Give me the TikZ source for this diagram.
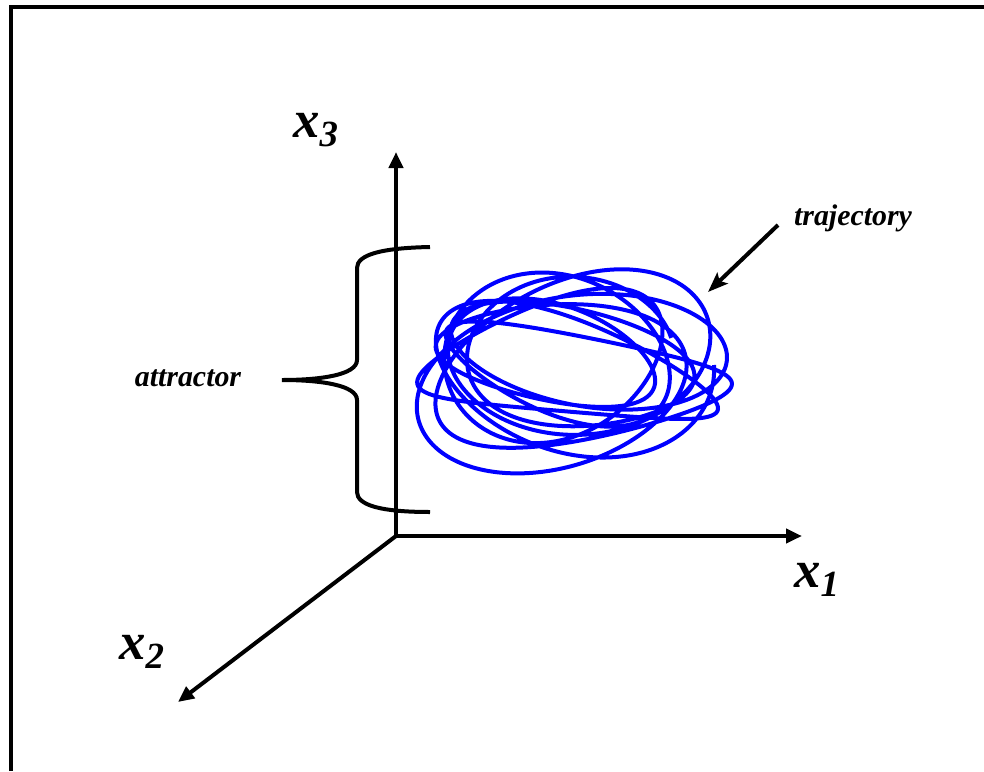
\documentclass[tikz,border=0pt]{standalone}
\usepackage{fontspec}
\setmainfont{Liberation Serif}
\usetikzlibrary{arrows.meta}
\tikzstyle{axislabel} = [font=\fontsize{30}{33}\selectfont\bfseries\itshape, inner sep=0pt]
\tikzstyle{textlabel} = [font=\fontsize{17}{19}\selectfont\bfseries\itshape, inner sep=0pt]
\tikzstyle{axis}      = [-{Triangle[length=0.32cm, width=0.28cm]}, line width=0.08cm]
\tikzstyle{pointer}   = [-{Stealth[length=0.4cm, width=0.3cm, inset=0.08cm]}, line width=0.08cm]
\tikzstyle{orbit}     = [blue, line width=0.08cm, line join=round]

\begin{document}
\begin{tikzpicture}[x=0.02cm, y=-0.02cm,
    declare function={
      aa(\t)=130+24*sin(0.29*\t);
      bb(\t)=64+26*cos(0.41*\t);
      ph(\t)=18*sin(0.37*\t);
      ox(\t)=566+18*cos(0.23*\t);
      oy(\t)=365+12*sin(0.31*\t);
    }]
    \useasboundingbox (0,0) rectangle (984,771);

    % Frame (top and left only)
    \draw[line width=0.09cm] (11,771) -- (11,7) -- (984,7);

    % Axes
    \coordinate (origin) at (396,536);
    \coordinate (x1end) at (802,536);
    \coordinate (x2end) at (178,702);
    \coordinate (x3end) at (396,152);
    \draw[axis] (origin) -- (x1end);
    \draw[axis] (origin) -- (x2end);
    \draw[axis] (origin) -- (x3end);

    \node (x1) [axislabel] at (817,580) {x\textsubscript{1}};
    \node (x2) [axislabel] at (142,652) {x\textsubscript{2}};
    \node (x3) [axislabel] at (316,130) {x\textsubscript{3}};

    % Trajectory
    \draw[orbit] plot[domain=0:3600, samples=900, smooth, variable=\t]
      ({ox(\t)+aa(\t)*cos(\t)*cos(ph(\t))-bb(\t)*sin(\t)*sin(ph(\t))},
       {oy(\t)+aa(\t)*cos(\t)*sin(ph(\t))+bb(\t)*sin(\t)*cos(ph(\t))});

    % Trajectory label
    \node (traj) [textlabel] at (853,218) {trajectory};
    \coordinate (trajtail) at (778,225);
    \coordinate (trajtip) at (708,292);
    \draw[pointer] (trajtail) -- (trajtip);

    % Attractor brace
    \draw[line width=0.08cm] (430,247) .. controls (380,248) and (357,255) .. (357,268)
      -- (357,360) .. controls (357,375) and (320,380) .. (282,380)
      .. controls (320,380) and (357,385) .. (357,400)
      -- (357,492) .. controls (357,505) and (380,512) .. (430,512);
    \node (attr) [textlabel] at (188,378) {attractor};
\end{tikzpicture}
\end{document}
